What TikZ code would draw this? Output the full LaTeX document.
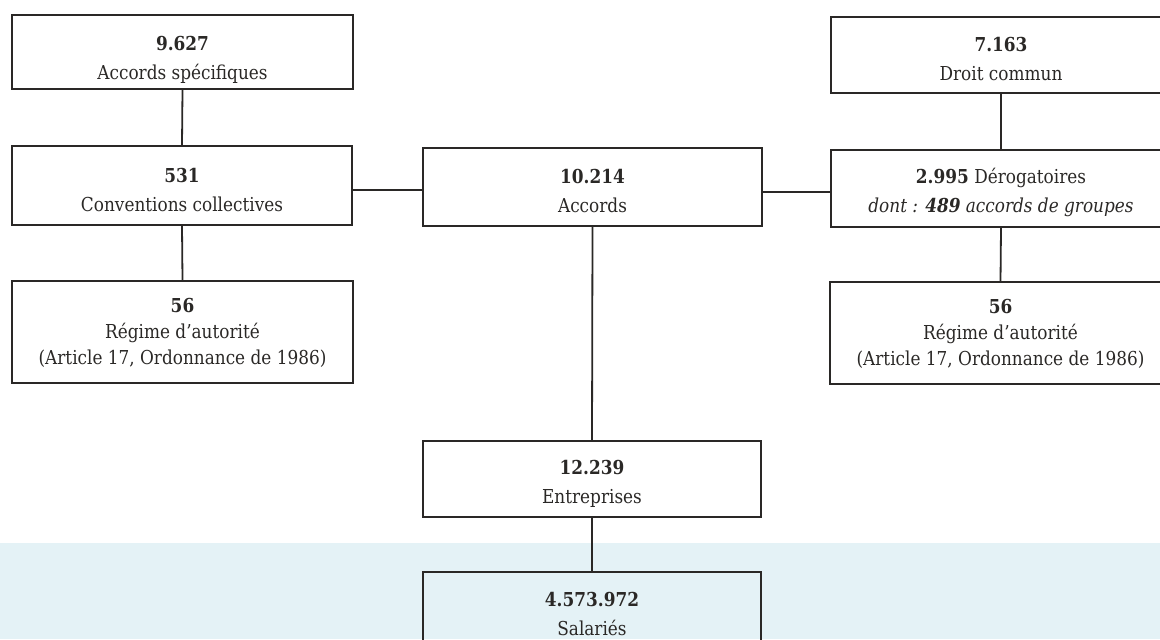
\documentclass[tikz,border=0pt]{standalone}
\usepackage{fontspec}
\setmainfont{DejaVu Serif}[FakeStretch=0.88]
\definecolor{ink}{HTML}{2A2826}
\definecolor{band}{HTML}{E4F2F6}
\begin{document}
\begin{tikzpicture}[x=0.5pt,y=-0.5pt,
  box/.style={draw=ink, line width=0.9pt, inner sep=0pt},
  txt/.style={inner sep=0pt, align=center, text=ink,
    font=\fontsize{9.6}{14.5}\selectfont},
  txtiii/.style={txt, font=\fontsize{9.6}{13}\selectfont},
  link/.style={draw=ink, line width=0.9pt}]
\useasboundingbox (0,0) rectangle (1160,639);
\clip (0,0) rectangle (1160,639);
\fill[band] (0,543) rectangle (1160,639);
\node[box, minimum width=170.5pt, minimum height=37pt] (A) at (182.5,52) {};
\node[box, minimum width=170pt, minimum height=39.5pt] (B) at (182,185.5) {};
\node[box, minimum width=170.5pt, minimum height=51pt] (C) at (182.5,332) {};
\node[box, minimum width=169.5pt, minimum height=39pt] (D) at (592.5,187) {};
\node[box, minimum width=170pt, minimum height=38pt] (E) at (1001,55) {};
\node[box, minimum width=170pt, minimum height=38.5pt] (F) at (1001,188.5) {};
\node[box, minimum width=170.5pt, minimum height=51pt] (G) at (1000.5,333) {};
\node[box, minimum width=169pt, minimum height=38pt] (H) at (592,479) {};
\node[box, minimum width=169pt, minimum height=38pt] (I) at (592,610) {};
\node[txt] (At) at ([yshift=-4pt]A.center) {\textbf{9.627}\\Accords spécifiques};
\node[txt] (Bt) at ([yshift=-2pt]B.center) {\textbf{531}\\Conventions collectives};
\node[txtiii] (Ct) at ([yshift=-0.5pt]C.center) {\textbf{56}\\Régime d'autorité\\(Article 17, Ordonnance de 1986)};
\node[txt] (Dt) at ([yshift=-2pt]D.center) {\textbf{10.214}\\Accords};
\node[txt] (Et) at ([yshift=-2pt]E.center) {\textbf{7.163}\\Droit commun};
\node[txt] (Ft) at ([yshift=-2pt]F.center) {\textbf{2.995} Dérogatoires\\\textit{dont : \textbf{489} accords de groupes}};
\node[txtiii] (Gt) at ([yshift=-0.5pt]G.center) {\textbf{56}\\Régime d'autorité\\(Article 17, Ordonnance de 1986)};
\node[txt] (Ht) at ([yshift=-2.5pt]H.center) {\textbf{12.239}\\Entreprises};
\node[txt] (It) at ([yshift=-2pt]I.center) {\textbf{4.573.972}\\Salariés};
\draw[link] (A.south) -- (B.north);
\draw[link] (B.south) -- (C.north);
\draw[link] ([yshift=-1.5pt]B.east |- D.west) -- ([yshift=-1.5pt]D.west);
\draw[link] ([yshift=-2.5pt]D.east) -- ([yshift=-2.5pt]D.east -| F.west);
\draw[link] (E.south) -- (F.north);
\draw[link] (F.south) -- (G.north);
\draw[link] (D.south) -- (H.north);
\draw[link] (H.south) -- (I.north);
\end{tikzpicture}
\end{document}
